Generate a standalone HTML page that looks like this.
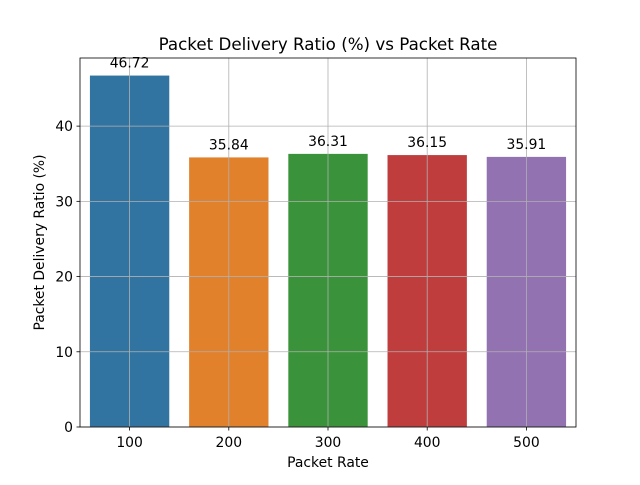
<!DOCTYPE html>
<html><head><meta charset="utf-8"><style>body{margin:0;background:#fff}svg{font-family:"DejaVu Sans","Liberation Sans",sans-serif}</style></head>
<body>
<svg id="chart" width="640" height="480" xmlns="http://www.w3.org/2000/svg"></svg>
<script>
const categories = ["100","200","300","400","500"];
const values = [46.72,35.84,36.31,36.15,35.91];
const valueLabels = ["46.72","35.84","36.31","36.15","35.91"];
const yTicks = [0,10,20,30,40];
const colors = ["#3274a1","#e1812c","#3a923a","#c03d3e","#9372b2"];
const L=80,R=576,T=58,B=427,yMax=Math.max(...values)*1.05;
const svg=document.getElementById('chart');const NS="http://www.w3.org/2000/svg";
function x(i){return L+(i+0.5)*(R-L)/categories.length;}
function y(v){return B-v/yMax*(B-T);}
function mk(t,a,txt){const e=document.createElementNS(NS,t);for(const k in a)e.setAttribute(k,a[k]);if(txt!==undefined)e.textContent=txt;svg.appendChild(e);return e;}
const bw=0.8*(R-L)/categories.length;
categories.forEach((c,i)=>{
 const r=mk('rect',{x:x(i)-bw/2,y:y(values[i]),width:bw,height:B-y(values[i]),fill:colors[i]});
 
 
});
yTicks.forEach(v=>{
 const g=mk('line',{x1:L,x2:R,y1:y(v),y2:y(v),stroke:'#b0b0b0','stroke-width':0.8});
 
 
 mk('line',{x1:L-3.5,x2:L,y1:y(v),y2:y(v),stroke:'#000','stroke-width':0.8});
 const t=mk('text',{x:L-7,y:y(v)+5,'text-anchor':'end','font-size':13.9},String(v));
 
 
});
categories.forEach((c,i)=>{
 const g=mk('line',{x1:x(i),x2:x(i),y1:T,y2:B,stroke:'#b0b0b0','stroke-width':0.8});
 
 
 mk('line',{x1:x(i),x2:x(i),y1:B,y2:B+3.5,stroke:'#000','stroke-width':0.8});
 const t=mk('text',{x:x(i),y:B+20,'text-anchor':'middle','font-size':13.9},c);
 
 
 const v=mk('text',{x:x(i),y:y(values[i])-8,'text-anchor':'middle','font-size':13.9},valueLabels[i]);
 
 
});
const f=mk('rect',{x:L,y:T,width:R-L,height:B-T,fill:'none',stroke:'#000','stroke-width':0.8});


const tt=mk('text',{x:(L+R)/2,y:T-8,'text-anchor':'middle','font-size':16.7},'Packet Delivery Ratio (%) vs Packet Rate');


const xt=mk('text',{x:(L+R)/2,y:467,'text-anchor':'middle','font-size':13.9},'Packet Rate');


const yt=mk('text',{x:0,y:0,'text-anchor':'middle','font-size':13.9,transform:`translate(44,${(T+B)/2}) rotate(-90)`},'Packet Delivery Ratio (%)');


</script>
</body></html>
